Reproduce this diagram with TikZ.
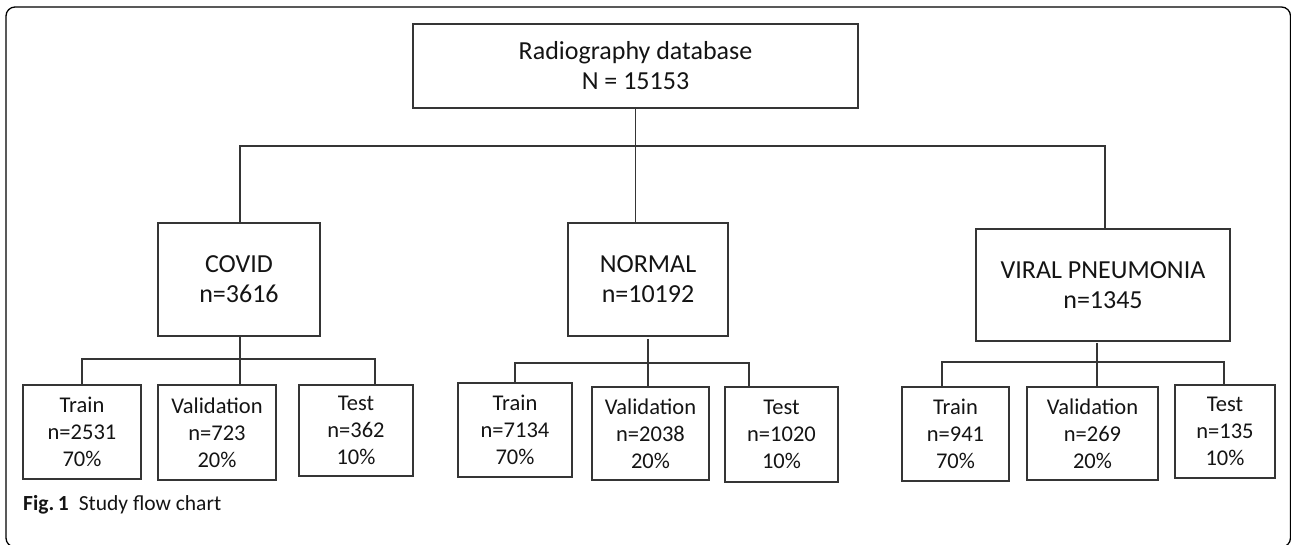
\documentclass[tikz,border=0pt]{standalone}
\usepackage{fontspec}
\setmainfont{Carlito}
\definecolor{linec}{HTML}{353535}
\definecolor{textc}{HTML}{141414}
\begin{document}
\begin{tikzpicture}[x=1pt,y=-1pt,
  box/.style={draw=linec,line width=1.5pt,inner sep=0pt,align=center,text=textc},
  bigbox/.style={box,font=\fontsize{26}{30}\selectfont},
  leafbox/.style={box,font=\fontsize{22.5}{27}\selectfont},
  conn/.style={draw=linec,line width=1.4pt}]
\useasboundingbox (0,0) rectangle (1291,545);
\draw[line width=1.3pt,black,rounded corners=9pt] (6,7) rectangle (1290.5,547);
% top
\node[bigbox,minimum width=445pt,minimum height=84pt] (top) at (635.5,66) {Radiography database\\N = 15153};
% categories
\node[bigbox,minimum width=162pt,minimum height=113pt] (cov) at (239,279.5) {COVID\\n=3616};
\node[bigbox,minimum width=160pt,minimum height=113pt] (nor) at (648,279.5) {NORMAL\\n=10192};
\node[bigbox,minimum width=254pt,minimum height=112pt] (vir) at (1103,285) {VIRAL PNEUMONIA\\n=1345};
% leaves
\node[leafbox,minimum width=118pt,minimum height=94pt] (ctr) at (82,432) {Train\\n=2531\\70\%};
\node[leafbox,minimum width=118pt,minimum height=95pt] (cva) at (217,432.5) {Validation\\n=723\\20\%};
\node[leafbox,minimum width=114pt,minimum height=91pt] (cte) at (356,430.5) {Test\\n=362\\10\%};
\node[leafbox,minimum width=114pt,minimum height=94pt] (ntr) at (515,430) {Train\\n=7134\\70\%};
\node[leafbox,minimum width=117pt,minimum height=93pt] (nva) at (650.5,433.5) {Validation\\n=2038\\20\%};
\node[leafbox,minimum width=113pt,minimum height=95pt] (nte) at (781.5,434.5) {Test\\n=1020\\10\%};
\node[leafbox,minimum width=107pt,minimum height=94pt] (vtr) at (955.5,434) {Train\\n=941\\70\%};
\node[leafbox,minimum width=131pt,minimum height=93pt] (vva) at (1092.5,433.5) {Validation\\n=269\\20\%};
\node[leafbox,minimum width=100pt,minimum height=93pt] (vte) at (1225,431.5) {Test\\n=135\\10\%};
% main bus
\coordinate (busL) at (240,146);
\coordinate (busR) at (1105,146);
\draw[conn] (top.south) -- (top.south |- nor.north);
\draw[conn] (busL |- cov.north) -- (busL) -- (busR) -- (busR |- vir.north);
% COVID sub tree
\coordinate (cbusL) at (82,359);
\coordinate (cbusR) at (375,359);
\coordinate (cv) at (240,336);
\draw[conn] (cv) -- (cv |- cva.north);
\draw[conn] (ctr.north) -- (cbusL) -- (cbusR) -- (cbusR |- cte.north);
% NORMAL sub tree
\coordinate (nbusL) at (515,363);
\coordinate (nbusR) at (749,363);
\coordinate (nv) at (648,339);
\draw[conn] (nv) -- (nv |- nva.north);
\draw[conn] (ntr.north) -- (nbusL) -- (nbusR) -- (nbusR |- nte.north);
% VIRAL sub tree
\coordinate (vbusL) at (942,362);
\coordinate (vbusR) at (1224,362);
\coordinate (vv) at (1097,343);
\draw[conn] (vv) -- (vv |- vva.north);
\draw[conn] (vbusL |- vtr.north) -- (vbusL) -- (vbusR) -- (vbusR |- vte.north);
% caption
\node[anchor=base west,inner sep=0pt,font=\fontsize{21.5}{25}\selectfont,text=textc] (cap) at (23,510) {\textbf{Fig.\,1}\hspace{10pt}Study flow chart};
\end{tikzpicture}
\end{document}
